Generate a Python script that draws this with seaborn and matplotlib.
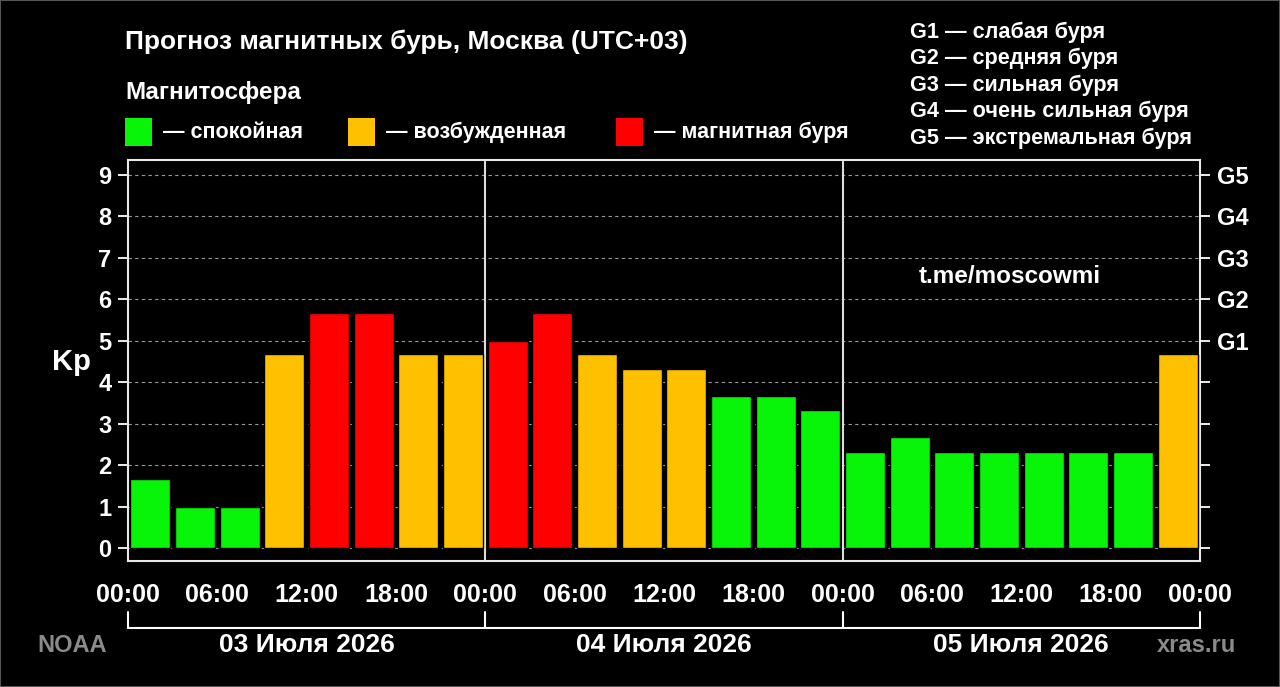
import matplotlib
matplotlib.use("Agg")
import matplotlib.pyplot as plt
import matplotlib.transforms as mtransforms
from matplotlib.patches import Rectangle
import seaborn as sns
import pandas as pd

# Прогноз Kp по трёхчасовым интервалам (3 суток, 24 интервала)
kp_values = [1.67, 1.0, 1.0, 4.67, 5.67, 5.67, 4.67, 4.67,
             5.0, 5.67, 4.67, 4.33, 4.33, 3.67, 3.67, 3.33,
             2.33, 2.67, 2.33, 2.33, 2.33, 2.33, 2.33, 4.67]
day_labels = ["03 Июля 2026", "04 Июля 2026", "05 Июля 2026"]
hour_labels = ["00:00", "06:00", "12:00", "18:00"]
g_levels = [5, 6, 7, 8, 9]
g_labels = ["G1", "G2", "G3", "G4", "G5"]
g_descr = ["слабая буря", "средняя буря", "сильная буря",
           "очень сильная буря", "экстремальная буря"]
states = ["спокойная", "возбужденная", "магнитная буря"]
state_colors = ["#08f408", "#ffc000", "#ff0000"]


def kp_state(kp):
    if kp >= 5:
        return states[2]
    if kp >= 4:
        return states[1]
    return states[0]


df = pd.DataFrame({"slot": range(len(kp_values)), "kp": kp_values})
df["state"] = df["kp"].apply(kp_state)
palette = dict(zip(states, state_colors))

sns.set_theme(style="dark")
plt.rcParams["font.family"] = ["Liberation Sans", "DejaVu Sans"]
plt.rcParams["font.weight"] = "bold"

W, H = 1280, 687
fig = plt.figure(figsize=(W / 100, H / 100), dpi=100, facecolor="black")
ax = fig.add_axes([128 / W, 1 - 561 / H, (1200 - 128) / W, (561 - 160) / H])
ax.set_facecolor("black")

sns.barplot(data=df, x="slot", y="kp", hue="state", hue_order=states,
            palette=palette, saturation=1, dodge=False, width=0.9,
            edgecolor="black", linewidth=1, legend=False, ax=ax, zorder=3)

n = len(kp_values)
per_day = n // len(day_labels)
ax.set_xlim(-0.5, n - 0.5)
ax.set_ylim(-0.31, 9.36)
ax.set_xlabel("")
ax.set_ylabel("")

# сетка и оси
ax.set_yticks(range(10))
ax.set_yticklabels([str(i) for i in range(10)])
ax.grid(axis="y", color="#9a9a9a", linestyle=(0, (3, 3)), linewidth=0.8, zorder=0)
ax.grid(axis="x", visible=False)
major = [i - 0.5 for i in range(0, n + 1, 2)]
ax.set_xticks(major)
ax.set_xticklabels([hour_labels[i % 4] for i in range(len(major))])
ax.set_xticks([i - 0.5 for i in range(1, n, 2)], minor=True)
ax.tick_params(axis="x", which="major", length=14, width=1.3, color="white",
               labelcolor="white", labelsize=18, pad=2)
ax.tick_params(axis="x", which="minor", length=7, width=1.3, color="white")
ax.tick_params(axis="y", length=7, width=1.3, color="white", labelcolor="white",
               labelsize=17, pad=5, left=True)
for s in ax.spines.values():
    s.set_color("#e8e8e8")
    s.set_linewidth(1.5)

for d in range(1, len(day_labels)):
    ax.axvline(d * per_day - 0.5, color="#dddddd", linewidth=1.5, zorder=2)

ax2 = ax.twinx()
ax2.set_ylim(ax.get_ylim())
ax2.set_yticks(range(10))
ax2.set_yticklabels(["" if i < g_levels[0] else g_labels[i - g_levels[0]] for i in range(10)])
ax2.tick_params(axis="y", length=7, width=1.3, color="white", labelcolor="white",
                labelsize=17, pad=5, right=True)
ax2.grid(False)
for s in ax2.spines.values():
    s.set_visible(False)

# скобка с датами под осью
trans = mtransforms.blended_transform_factory(ax.transData, ax.transAxes)
ax.plot([-0.5, n - 0.5], [-0.167, -0.167], transform=trans, clip_on=False,
        color="white", linewidth=1.5)
for d in range(len(day_labels) + 1):
    x = d * per_day - 0.5
    ax.plot([x, x], [-0.127, -0.167], transform=trans, clip_on=False,
            color="white", linewidth=1.5)
for d, lab in enumerate(day_labels):
    ax.text(d * per_day + per_day / 2 - 0.5, -0.21, lab, transform=trans,
            ha="center", va="center", color="white", fontsize=19, fontweight="bold")

# подписи
fig.text(71 / W, 1 - 362 / H, "Kp", ha="center", va="center", color="white",
         fontsize=21, fontweight="bold")
fig.text(125 / W, 1 - 42 / H, "Прогноз магнитных бурь, Москва (UTC+03)",
         ha="left", va="center", color="white", fontsize=19, fontweight="bold")
fig.text(125 / W, 1 - 92 / H, "Магнитосфера", ha="left", va="center",
         color="white", fontsize=17.5, fontweight="bold")
for x0, lab, col in zip([125, 348, 616], states, state_colors):
    fig.patches.append(Rectangle((x0 / W, 1 - 146 / H), 27 / W, 28 / H,
                                 transform=fig.transFigure, facecolor=col,
                                 edgecolor="none"))
    fig.text((x0 + 38) / W, 1 - 132 / H, "— " + lab, ha="left", va="center",
             color="white", fontsize=15.5, fontweight="bold")
for i, (g, desc) in enumerate(zip(g_labels, g_descr)):
    fig.text(910 / W, 1 - (32 + i * 26.5) / H, g + " — " + desc, ha="left",
             va="center", color="white", fontsize=15.6, fontweight="bold")

fig.text(1010 / W, 1 - 276 / H, "t.me/moscowmi", ha="center", va="center",
         color="white", fontsize=17.5, fontweight="bold")
fig.text(72 / W, 1 - 645 / H, "NOAA", ha="center", va="center",
         color="#8a8a8a", fontsize=17, fontweight="bold")
fig.text(1236 / W, 1 - 645 / H, "xras.ru", ha="right", va="center",
         color="#8a8a8a", fontsize=17, fontweight="bold")

fig.patches.append(Rectangle((0, 0), 1, 1, transform=fig.transFigure,
                             facecolor="none", edgecolor="#555555", linewidth=1.5))

fig.savefig("out.png", dpi=100, facecolor="black")
